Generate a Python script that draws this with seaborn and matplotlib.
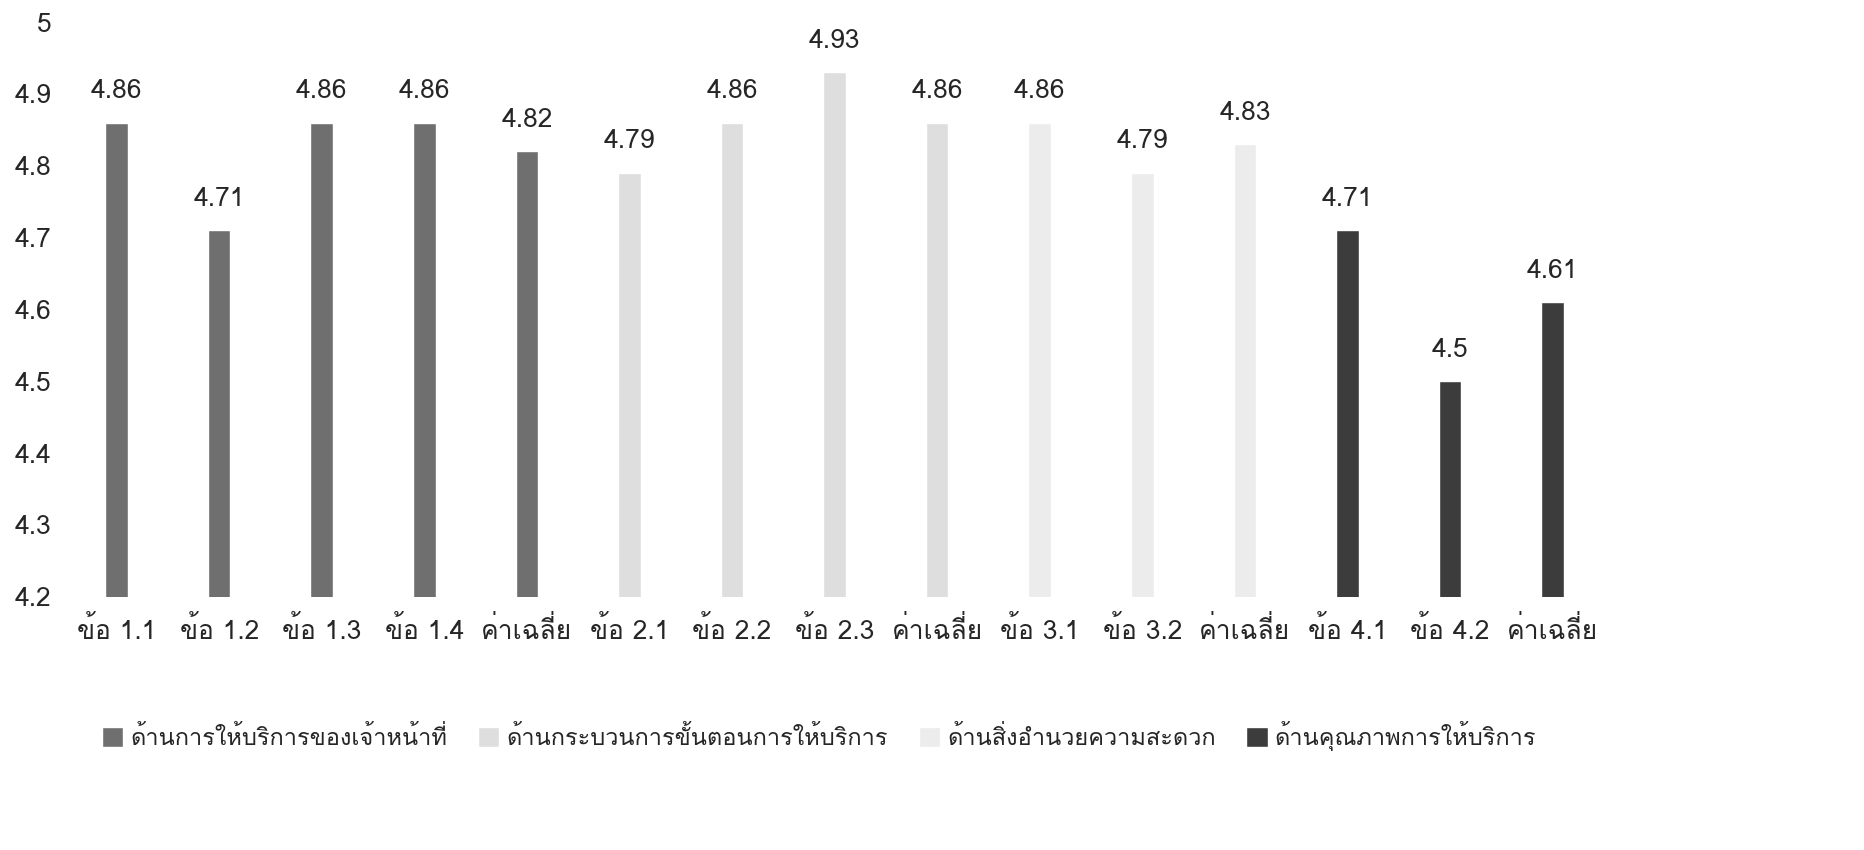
import matplotlib
matplotlib.use("Agg")
import matplotlib.pyplot as plt
from matplotlib import font_manager
from matplotlib.ft2font import FT2Font
import seaborn as sns
import pandas as pd

items = ["ข้อ 1.1", "ข้อ 1.2", "ข้อ 1.3", "ข้อ 1.4", "ค่าเฉลี่ย",
         "ข้อ 2.1", "ข้อ 2.2", "ข้อ 2.3", "ค่าเฉลี่ย ",
         "ข้อ 3.1", "ข้อ 3.2", "ค่าเฉลี่ย  ",
         "ข้อ 4.1", "ข้อ 4.2", "ค่าเฉลี่ย   "]
scores = [4.86, 4.71, 4.86, 4.86, 4.82,
          4.79, 4.86, 4.93, 4.86,
          4.86, 4.79, 4.83,
          4.71, 4.5, 4.61]
groups = ["ด้านการให้บริการของเจ้าหน้าที่"] * 5 + \
         ["ด้านกระบวนการขั้นตอนการให้บริการ"] * 4 + \
         ["ด้านสิ่งอำนวยความสะดวก"] * 3 + \
         ["ด้านคุณภาพการให้บริการ"] * 3
group_colors = ["#6f6f6f", "#dedede", "#ececec", "#3c3c3c"]

sns.set_style("white")

# find a font that has thai glyphs, if one is installed
thai = []
for f in font_manager.fontManager.ttflist:
    try:
        if 0x0E01 in FT2Font(f.fname).get_charmap():
            thai.append(f.name)
    except Exception:
        pass
fams = list(dict.fromkeys(thai)) + ["DejaVu Sans"]
plt.rcParams["font.family"] = fams

df = pd.DataFrame({"item": items, "score": scores, "group": groups})

fig = plt.figure(figsize=(18.65, 8.5), dpi=100)
ax = fig.add_axes([0.035, 0.298, 0.825, 0.676])
sns.barplot(data=df, x="item", y="score", hue="group", palette=group_colors,
            dodge=False, width=0.22, ax=ax, saturation=1)

ax.set_ylim(4.2, 5)
ax.set_yticks([4.2, 4.3, 4.4, 4.5, 4.6, 4.7, 4.8, 4.9, 5])
ax.set_yticklabels(["4.2", "4.3", "4.4", "4.5", "4.6", "4.7", "4.8", "4.9", "5"])
for c in ax.containers:
    ax.bar_label(c, labels=[f"{v:g}" for v in c.datavalues], padding=14, fontsize=19)
ax.set_xticks(range(len(items)))
ax.set_xticklabels([s.strip() for s in items])
ax.tick_params(axis="x", labelsize=19, length=0, pad=14)
ax.tick_params(axis="y", labelsize=19, length=0, pad=10)
ax.set_xlabel("")
ax.set_ylabel("")
sns.despine(ax=ax, left=True, bottom=True)

ax.legend(loc="upper center", bbox_to_anchor=(0.49, -0.18), ncol=4, frameon=False,
          fontsize=17, handlelength=0.9, handleheight=0.9, columnspacing=1.3,
          handletextpad=0.3)

fig.savefig("out.png", dpi=100)
